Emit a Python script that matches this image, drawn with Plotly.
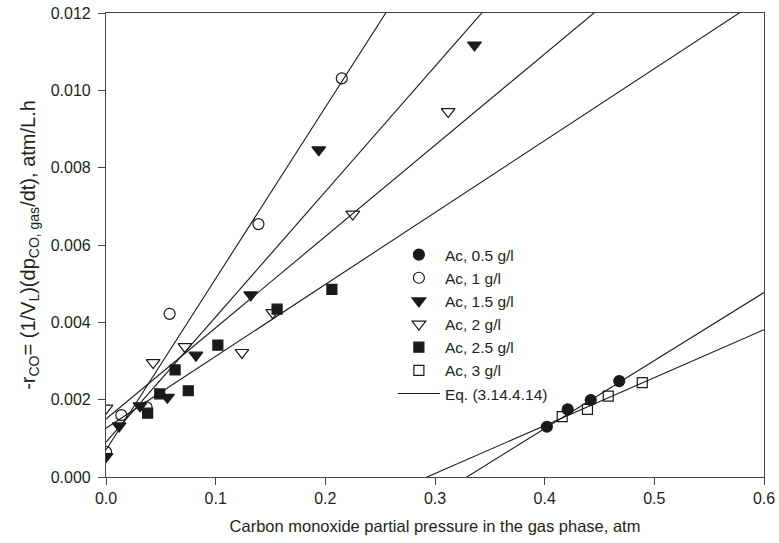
import numpy as np
import plotly.graph_objects as go

# ---- data ----
x_05 = [0.402, 0.421, 0.442, 0.468]
y_05 = [0.00130, 0.00175, 0.00199, 0.00248]

x_1 = [0.0, 0.014, 0.037, 0.058, 0.139, 0.215]
y_1 = [0.00065, 0.00160, 0.00180, 0.00422, 0.00654, 0.01031]

x_15 = [0.0, 0.012, 0.031, 0.056, 0.082, 0.132, 0.194, 0.336]
y_15 = [0.00053, 0.00132, 0.00184, 0.00206, 0.00315, 0.00471, 0.00846, 0.01117]

x_2 = [0.0, 0.043, 0.072, 0.124, 0.152, 0.225, 0.312]
y_2 = [0.00178, 0.00296, 0.00337, 0.00322, 0.00425, 0.00680, 0.00945]

x_25 = [0.038, 0.049, 0.063, 0.075, 0.102, 0.156, 0.206]
y_25 = [0.00165, 0.00215, 0.00277, 0.00223, 0.00341, 0.00434, 0.00485]

x_3 = [0.416, 0.439, 0.458, 0.489]
y_3 = [0.00156, 0.00175, 0.00209, 0.00244]

# fitted lines of Eq. (3.14.4.14): y = a + b*x
fit_a = [0.0007, 0.0009, 0.0015, 0.00126, -0.00579, -0.00363]
fit_b = [0.0443, 0.0324, 0.0236, 0.0186, 0.0176, 0.0124]
fit_x = [0.0, 0.6]

x_ticks = [0.0, 0.1, 0.2, 0.3, 0.4, 0.5, 0.6]
y_ticks = [0.000, 0.002, 0.004, 0.006, 0.008, 0.010, 0.012]

FONT = "Liberation Sans, Arial, sans-serif"
INK = "#231f20"
MK = "#1a1a1a"

fig = go.Figure()

series = [
    ("Ac, 0.5 g/l", x_05, y_05, "circle", 11),
    ("Ac, 1 g/l", x_1, y_1, "circle-open", 11),
    ("Ac, 1.5 g/l", x_15, y_15, "triangle-down", 12),
    ("Ac, 2 g/l", x_2, y_2, "triangle-down-open", 12),
    ("Ac, 2.5 g/l", x_25, y_25, "square", 10),
    ("Ac, 3 g/l", x_3, y_3, "square-open", 10),
]

# fit lines first (drawn under markers)
fx = np.array(fit_x)
for i, (a, b) in enumerate(zip(fit_a, fit_b)):
    fig.add_trace(go.Scatter(
        x=fx, y=a + b * fx, mode="lines",
        line=dict(color=MK, width=1.1),
        name="Eq. (3.14.4.14)", showlegend=(i == 0),
        legendrank=1000,
        hoverinfo="skip"))

for k, (name, xs, ys, sym, sz) in enumerate(series):
    fig.add_trace(go.Scatter(
        x=xs, y=ys, mode="markers", name=name,
        legendrank=k + 1,
        marker=dict(symbol=sym, size=sz, color=MK,
                    line=dict(color=MK, width=1.2))))

axis_common = dict(
    showgrid=False, zeroline=False, showline=True, mirror=True,
    linecolor="#444444", linewidth=1.2,
    ticks="outside", ticklen=7, tickwidth=1.2, tickcolor="#444444",
    tickfont=dict(family=FONT, size=16, color=INK),
    automargin=False,
)

fig.update_xaxes(range=[0, 0.6], tickvals=x_ticks,
                 ticktext=[f"{v:.1f}" for v in x_ticks],
                 title=dict(text="Carbon monoxide partial pressure in the gas phase, atm",
                            font=dict(family=FONT, size=16.5, color=INK), standoff=14),
                 **axis_common)
fig.update_yaxes(range=[0, 0.012], tickvals=y_ticks,
                 ticktext=[f"{v:.3f}" for v in y_ticks],
                 ticklabelstandoff=4,
                 title=dict(text="-r<sub>CO</sub>= (1/V<sub>L</sub>)(dp<sub>CO, gas</sub>/dt), atm/L.h",
                            font=dict(family=FONT, size=20, color=INK), standoff=9),
                 **axis_common)

fig.update_layout(
    width=779, height=543,
    margin=dict(l=106, r=15, t=13, b=66),
    paper_bgcolor="white", plot_bgcolor="white",
    font=dict(family=FONT, size=16, color=INK),
    showlegend=True,
    legend=dict(x=0.436, y=0.515, xanchor="left", yanchor="top",
                bgcolor="rgba(0,0,0,0)", borderwidth=0,
                font=dict(family=FONT, size=15.5, color=INK),
                tracegroupgap=0, itemwidth=42),
)

fig.write_html("out.html")
